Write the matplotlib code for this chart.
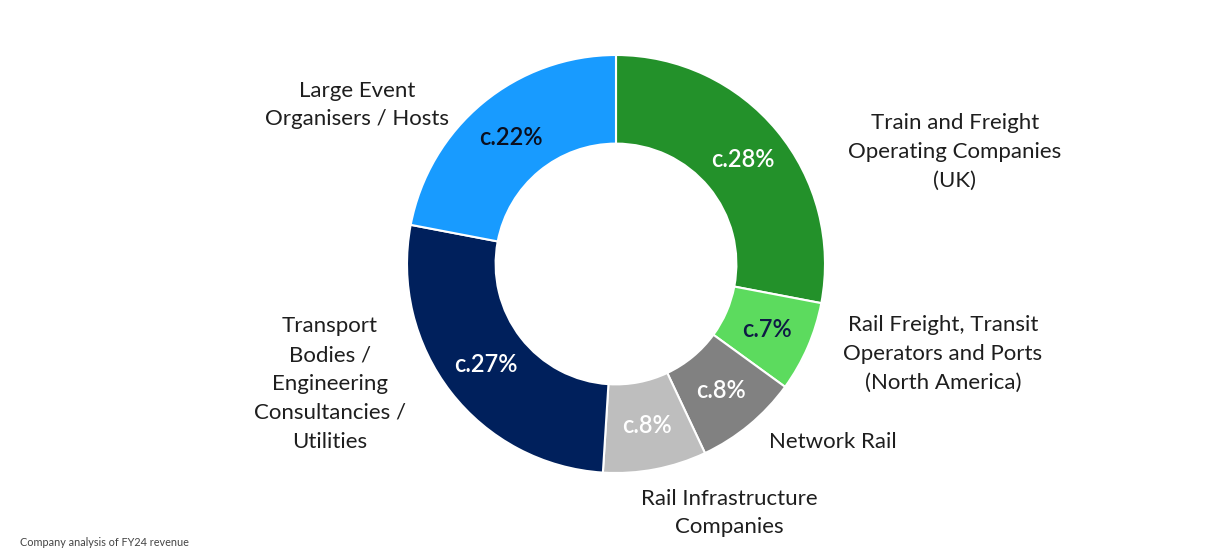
import matplotlib
matplotlib.use("Agg")
import matplotlib.pyplot as plt

# segments clockwise from 12 o'clock
segments = ["Train and Freight\nOperating Companies\n(UK)",
            "Rail Freight, Transit\nOperators and Ports\n(North America)",
            "Network Rail",
            "Rail Infrastructure\nCompanies",
            "Transport\nBodies /\nEngineering\nConsultancies /\nUtilities",
            "Large Event\nOrganisers / Hosts"]
shares = [28, 7, 8, 8, 27, 22]
colours = ["#23912A", "#5CDB5E", "#818181", "#BEBEBE", "#00205C", "#189BFF"]
pct_colours = ["white", "#0E1A45", "white", "white", "white", "#0B0F1E"]

# label anchor points (pixels, y from bottom)
label_pos = [(955, 558 - 152), (943, 558 - 354), (833, 558 - 442),
             (729, 558 - 513), (330, 558 - 384), (357, 558 - 105)]

plt.rcParams['font.family'] = ['Lato', 'DejaVu Sans']

fig = plt.figure(figsize=(12.23, 5.58), dpi=100)
ax = fig.add_axes([0, 0, 1, 1])

cx, cy, r = 616, 558 - 264, 209
wedges, texts, autotexts = ax.pie(
    shares, colors=colours, startangle=90, counterclock=False,
    center=(cx, cy), radius=r,
    autopct=lambda p: f"c.{p:.0f}%", pctdistance=0.787,
    wedgeprops=dict(width=r * 0.424, edgecolor="white", linewidth=1.5),
    textprops=dict(fontsize=17, fontweight="semibold"))

for t, c in zip(autotexts, pct_colours):
    t.set_color(c)

for name, (x, y) in zip(segments, label_pos):
    ax.text(x, y, name, ha="center", va="center", fontsize=16,
            color="#1E1E1E", linespacing=1.56)

ax.text(20, 558 - 543, "Company analysis of FY24 revenue", ha="left",
        va="center", fontsize=7.8, color="#444444")

ax.set_xlim(0, 1223)
ax.set_ylim(0, 558)
ax.set_aspect("equal")
ax.axis("off")

fig.savefig("out.png", dpi=100, facecolor="white")
